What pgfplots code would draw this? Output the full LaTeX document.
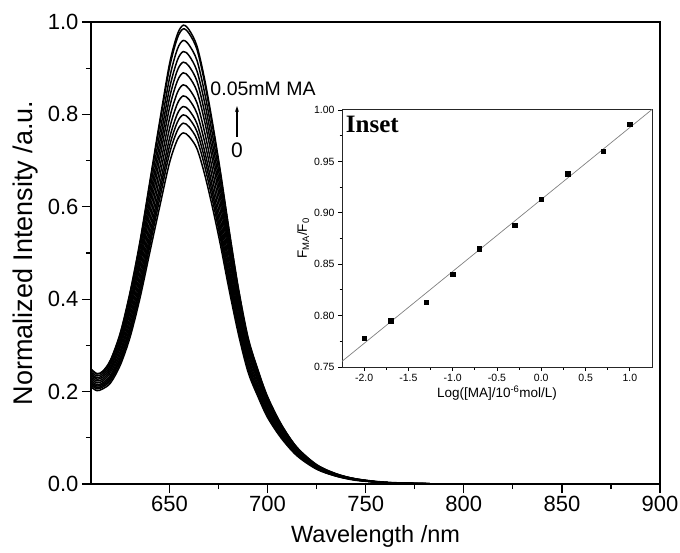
\documentclass[border=0pt]{standalone}
\usepackage{fontspec}
\setmainfont{Liberation Sans}
\newfontfamily\serifbf{Liberation Serif}
\usepackage{pgfplots}
\usepackage{pgfplotstable}
\pgfplotsset{compat=1.18}
\usetikzlibrary{arrows.meta}

\pgfplotstableread{
x c1 c2 c3 c4 c5 c6 c7 c8 c9 c10 c11 c12
610 0.210 0.214 0.217 0.220 0.224 0.228 0.232 0.236 0.239 0.243 0.248 0.249
613 0.202 0.206 0.209 0.212 0.215 0.219 0.223 0.227 0.230 0.234 0.238 0.239
616 0.206 0.210 0.213 0.216 0.219 0.223 0.227 0.231 0.235 0.239 0.243 0.244
620 0.219 0.224 0.228 0.232 0.236 0.242 0.247 0.252 0.257 0.262 0.267 0.269
625 0.258 0.264 0.270 0.275 0.282 0.289 0.297 0.304 0.311 0.318 0.326 0.328
630 0.319 0.328 0.336 0.343 0.353 0.363 0.374 0.384 0.393 0.403 0.414 0.417
635 0.403 0.414 0.424 0.433 0.445 0.458 0.472 0.484 0.496 0.509 0.522 0.526
640 0.502 0.516 0.527 0.539 0.554 0.570 0.587 0.603 0.618 0.634 0.650 0.655
645 0.600 0.617 0.631 0.645 0.664 0.683 0.703 0.721 0.739 0.758 0.778 0.785
650 0.695 0.715 0.731 0.748 0.769 0.791 0.814 0.835 0.856 0.878 0.901 0.909
654 0.745 0.765 0.783 0.801 0.823 0.847 0.872 0.895 0.917 0.941 0.965 0.973
657 0.760 0.781 0.799 0.817 0.840 0.864 0.890 0.913 0.936 0.960 0.985 0.993
660 0.752 0.773 0.791 0.809 0.832 0.855 0.881 0.904 0.927 0.950 0.975 0.983
664 0.726 0.746 0.763 0.780 0.802 0.825 0.850 0.872 0.894 0.917 0.941 0.948
668 0.669 0.687 0.703 0.719 0.739 0.760 0.783 0.803 0.824 0.845 0.867 0.874
672 0.597 0.613 0.627 0.641 0.659 0.678 0.699 0.717 0.735 0.754 0.773 0.780
676 0.517 0.531 0.543 0.556 0.571 0.588 0.605 0.621 0.637 0.653 0.670 0.675
680 0.429 0.441 0.451 0.462 0.475 0.488 0.503 0.516 0.529 0.542 0.557 0.561
685 0.327 0.336 0.344 0.351 0.361 0.372 0.383 0.393 0.403 0.413 0.424 0.427
690 0.243 0.250 0.256 0.261 0.269 0.277 0.285 0.292 0.300 0.307 0.315 0.318
695 0.190 0.195 0.200 0.204 0.210 0.216 0.223 0.228 0.234 0.240 0.246 0.248
700 0.144 0.148 0.152 0.155 0.160 0.164 0.169 0.174 0.178 0.182 0.187 0.189
707 0.099 0.102 0.104 0.106 0.109 0.112 0.116 0.119 0.122 0.125 0.128 0.129
715 0.061 0.063 0.064 0.065 0.067 0.069 0.071 0.073 0.075 0.077 0.079 0.079
725 0.032 0.033 0.034 0.034 0.035 0.036 0.037 0.038 0.039 0.040 0.041 0.042
735 0.017 0.017 0.018 0.018 0.019 0.019 0.020 0.020 0.021 0.021 0.022 0.022
745 0.008 0.009 0.009 0.009 0.009 0.010 0.010 0.010 0.010 0.011 0.011 0.011
760 0.003 0.003 0.003 0.003 0.003 0.003 0.003 0.003 0.003 0.003 0.003 0.004
780 0.0005 0.0005 0.0005 0.0006 0.0006 0.0006 0.0006 0.0006 0.0007 0.0007 0.0007 0.0007
800 0.0001 0.0001 0.0001 0.0001 0.0001 0.0001 0.0001 0.0001 0.0001 0.0001 0.0001 0.0001
}\spectra

\pgfplotstableread{
x y
-2.0 0.778
-1.7 0.795
-1.3 0.813
-1.0 0.840
-0.7 0.865
-0.3 0.888
0.0 0.913
0.3 0.938
0.7 0.960
1.0 0.986
}\insetdata

\begin{document}
\begin{tikzpicture}
\useasboundingbox (-91pt,-68pt) rectangle (589pt,484pt);
\begin{axis}[
  scale only axis,
  width=569pt, height=462pt,
  at={(0pt,0pt)}, anchor=south west,
  xmin=610, xmax=900, ymin=0, ymax=1.0,
  xtick={650,700,750,800,850,900},
  minor x tick num=1,
  ytick={0,0.2,0.4,0.6,0.8,1.0},
  minor y tick num=1,
  xtick pos=bottom, ytick pos=left,
  tick align=outside,
  major tick length=9pt, minor tick length=5pt,
  every tick/.style={black, line width=1.3pt},
  axis line style={line width=1.5pt},
  tick label style={font=\fontsize{22}{25}\selectfont, /pgf/number format/assume math mode=true},
  yticklabel style={/pgf/number format/.cd, fixed, fixed zerofill, precision=1},
  xticklabel style={/pgf/number format/.cd, fixed, precision=0, set thousands separator={}},
  xlabel={Wavelength /nm},
  ylabel={Normalized Intensity /a.u.},
  xlabel style={font=\fontsize{23.5}{26}\selectfont, yshift=-6pt},
  ylabel style={font=\fontsize{27}{30}\selectfont, yshift=3pt},
  clip=true,
]
\foreach \c in {c1,c2,c3,c4,c5,c6,c7,c8,c9,c10,c11,c12} {
  \addplot[black, line width=1.5pt, smooth, tension=0.5] table[x=x, y=\c] {\spectra};
}
\node[anchor=west, font=\fontsize{19.5}{22}\selectfont, inner sep=0pt] at (axis cs:670.8,0.855) {0.05mM MA};
\draw[-{Stealth[length=6pt,width=4pt]}, line width=1.1pt] (axis cs:684.4,0.752) -- (axis cs:684.4,0.818);
\node[font=\fontsize{21}{24}\selectfont, inner sep=0pt] at (axis cs:684.4,0.723) {0};
\end{axis}

\begin{axis}[
  scale only axis,
  width=310pt, height=257pt,
  at={(251pt,117pt)}, anchor=south west,
  xmin=-2.25, xmax=1.25, ymin=0.75, ymax=1.0,
  xtick={-2,-1.5,-1,-0.5,0,0.5,1},
  minor x tick num=1,
  ytick={0.75,0.8,0.85,0.9,0.95,1.0},
  minor y tick num=1,
  xtick pos=bottom, ytick pos=left,
  tick align=outside,
  major tick length=4pt, minor tick length=2.5pt,
  every tick/.style={black, line width=0.8pt},
  axis line style={line width=1pt, black!85},
  tick label style={font=\fontsize{10.5}{12}\selectfont, /pgf/number format/assume math mode=true},
  xticklabel style={/pgf/number format/.cd, fixed, fixed zerofill, precision=1},
  yticklabel style={/pgf/number format/.cd, fixed, fixed zerofill, precision=2},
  xlabel={Log([MA]/10\textsuperscript{-6}mol/L)},
  ylabel={F\textsubscript{MA}/F\textsubscript{0}},
  xlabel style={font=\fontsize{13.5}{15}\selectfont, yshift=3pt},
  ylabel style={font=\fontsize{13.5}{15}\selectfont, yshift=-2pt},
]
\addplot[gray, line width=0.7pt] coordinates {(-2.25,0.7555) (1.25,1.0005)};
\addplot[only marks, mark=square*, mark size=2.2pt, black] table[x=x, y=y] {\insetdata};
\node[anchor=north west, font=\fontsize{25}{28}\selectfont\serifbf\bfseries, inner sep=0pt] at (rel axis cs:0.012,0.975) {Inset};
\end{axis}
\end{tikzpicture}
\end{document}
